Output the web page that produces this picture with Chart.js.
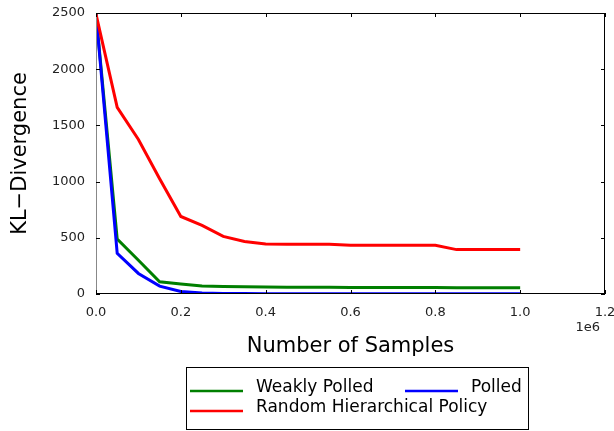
<!DOCTYPE html>
<html>
<head>
<meta charset="utf-8">
<script src="https://cdn.jsdelivr.net/npm/chart.js@4"></script>
<style>
  html, body { margin: 0; padding: 0; background: #fff; }
  canvas { display: block; }
</style>
</head>
<body>
<canvas id="myChart" width="614" height="431"></canvas>
<script>
// samples, every 50k from 0 to 1e6
const samples = [0, 50000, 100000, 150000, 200000, 250000, 300000, 350000, 400000, 450000,
  500000, 550000, 600000, 650000, 700000, 750000, 800000, 850000, 900000, 950000, 1000000];

const weaklyPolled = [2490, 488, 300, 108, 90, 72, 67, 64, 62, 61,
  60, 59, 58, 58, 57, 57, 57, 56, 56, 56, 56];
const polled = [2490, 362, 183, 70, 22, 8, 5, 4, 3, 3,
  3, 2, 2, 2, 2, 2, 2, 2, 2, 2, 2];
const randomPolicy = [2490, 1660, 1375, 1025, 690, 610, 512, 467, 445, 443,
  442, 442, 434, 434, 434, 434, 433, 395, 395, 395, 395];

const xTicks = [0, 200000, 400000, 600000, 800000, 1000000, 1200000];
const yTicks = [0, 500, 1000, 1500, 2000, 2500];

const FONT = "'DejaVu Sans', sans-serif";

const toPoints = (vals) => vals.map((v, i) => ({ x: samples[i], y: v }));

// draws box, inward ticks, labels, titles and the legend
const decor = {
  id: "decor",
  afterDraw(chart) {
    const ctx = chart.ctx;
    const a = chart.chartArea;
    const xs = chart.scales.x;
    const ys = chart.scales.y;
    ctx.save();

    // spines
    ctx.lineWidth = 1;
    ctx.strokeStyle = "#000";
    ctx.beginPath();
    ctx.moveTo(a.left, a.top + 0.5);
    ctx.lineTo(a.right, a.top + 0.5);
    ctx.moveTo(a.right - 0.5, a.top);
    ctx.lineTo(a.right - 0.5, a.bottom);
    ctx.moveTo(a.left, a.bottom - 0.5);
    ctx.lineTo(a.right, a.bottom - 0.5);
    ctx.stroke();
    ctx.strokeStyle = "#888";
    ctx.beginPath();
    ctx.moveTo(a.left + 0.5, a.top);
    ctx.lineTo(a.left + 0.5, a.bottom);
    ctx.stroke();

    // ticks (inward)
    ctx.strokeStyle = "#000";
    ctx.beginPath();
    xTicks.forEach(t => {
      const px = Math.round(xs.getPixelForValue(t)) + 0.5;
      ctx.moveTo(px, a.bottom);
      ctx.lineTo(px, a.bottom - 4);
      ctx.moveTo(px, a.top);
      ctx.lineTo(px, a.top + 4);
    });
    yTicks.forEach(t => {
      const py = Math.round(ys.getPixelForValue(t)) + 0.5;
      ctx.moveTo(a.left, py);
      ctx.lineTo(a.left + 4, py);
      ctx.moveTo(a.right, py);
      ctx.lineTo(a.right - 4, py);
    });
    ctx.stroke();

    // tick labels
    ctx.fillStyle = "#222";
    ctx.font = "13px " + FONT;
    ctx.textAlign = "center";
    ctx.textBaseline = "middle";
    xTicks.forEach(t => {
      ctx.fillText((t / 1e6).toFixed(1), xs.getPixelForValue(t), 313);
    });
    ctx.textAlign = "right";
    yTicks.forEach(t => {
      ctx.fillText(String(t), 85, ys.getPixelForValue(t));
    });
    ctx.fillText("1e6", 600, 328);

    // axis titles
    ctx.fillStyle = "#000";
    ctx.font = "21px " + FONT;
    ctx.textAlign = "center";
    ctx.textBaseline = "alphabetic";
    ctx.fillText("Number of Samples", (a.left + a.right) / 2, 352);
    ctx.save();
    ctx.translate(26, (a.top + a.bottom) / 2);
    ctx.rotate(-Math.PI / 2);
    ctx.fillText("KL\u2212Divergence", 0, 0);
    ctx.restore();

    // legend
    ctx.fillStyle = "#fff";
    ctx.fillRect(186, 367, 342, 62);
    ctx.strokeStyle = "#000";
    ctx.lineWidth = 1;
    ctx.strokeRect(186.5, 367.5, 342, 62);

    const items = [
      { label: "Weakly Polled", color: "#007f00", x: 190, y: 390 },
      { label: "Polled", color: "#0000ff", x: 405, y: 390 },
      { label: "Random Hierarchical Policy", color: "#ff0000", x: 190, y: 410 },
    ];
    ctx.font = "17px " + FONT;
    ctx.textAlign = "left";
    ctx.textBaseline = "middle";
    items.forEach(it => {
      ctx.strokeStyle = it.color;
      ctx.lineWidth = 2.5;
      ctx.beginPath();
      ctx.moveTo(it.x, it.y + 1);
      ctx.lineTo(it.x + 53, it.y + 1);
      ctx.stroke();
      ctx.fillStyle = "#000";
      ctx.fillText(it.label, it.x + 66, it.y - 2);
    });

    ctx.restore();
  },
};

const config = {
  type: "line",
  data: {
    datasets: [
      {
        label: "Weakly Polled",
        data: toPoints(weaklyPolled),
        borderColor: "#007f00",
        borderWidth: 3,
        pointRadius: 0,
        order: 3,
      },
      {
        label: "Polled",
        data: toPoints(polled),
        borderColor: "#0000ff",
        borderWidth: 3,
        pointRadius: 0,
        order: 2,
      },
      {
        label: "Random Hierarchical Policy",
        data: toPoints(randomPolicy),
        borderColor: "#ff0000",
        borderWidth: 3,
        pointRadius: 0,
        order: 1,
      },
    ],
  },
  options: {
    responsive: false,
    animation: false,
    devicePixelRatio: 1,
    layout: { padding: { left: 0, right: 9, top: 13, bottom: 107 } },
    plugins: { legend: { display: false }, tooltip: { enabled: false } },
    scales: {
      x: {
        type: "linear",
        min: 0,
        max: 1200000,
        grid: { display: false },
        border: { display: false },
        ticks: { display: false, stepSize: 200000 },
        afterFit: (s) => { s.height = 30; s.paddingLeft = 0; s.paddingRight = 0; },
      },
      y: {
        min: 0,
        max: 2500,
        grid: { display: false },
        border: { display: false },
        ticks: { display: false, stepSize: 500 },
        afterFit: (s) => { s.width = 96; },
      },
    },
  },
  plugins: [decor],
};

new Chart(document.getElementById("myChart").getContext("2d"), config);
</script>
</body>
</html>
